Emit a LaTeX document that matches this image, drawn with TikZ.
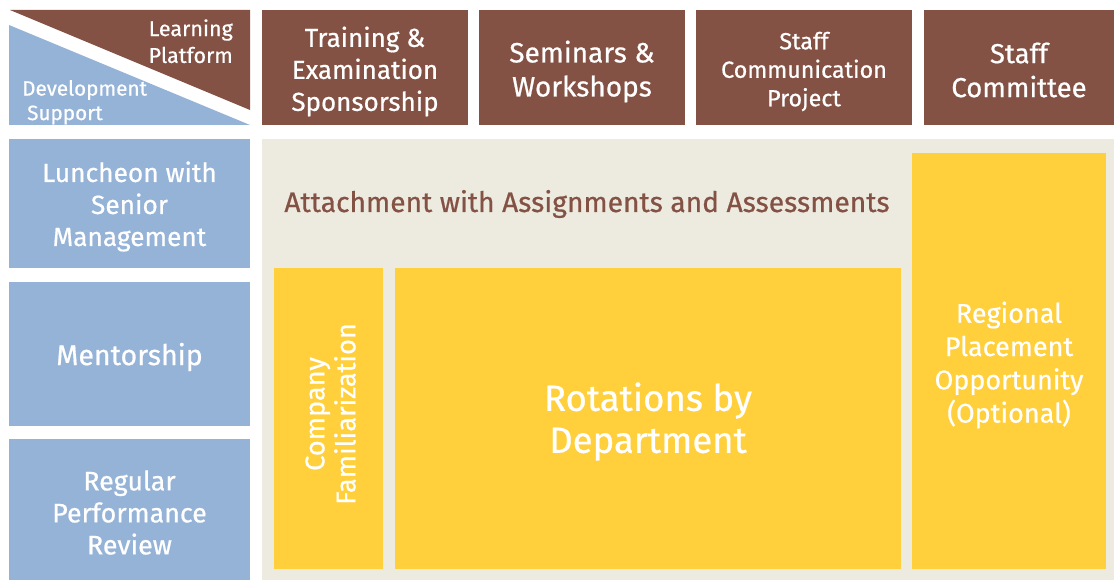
\documentclass[tikz,border=0pt]{standalone}
\usepackage{fontspec}
\setmainfont{Fira Sans}[BoldFont={Fira Sans},BoldFeatures={FakeBold=0.6}]
\definecolor{brn}{HTML}{845244}
\definecolor{blu}{HTML}{95B3D7}
\definecolor{ylw}{HTML}{FFD03C}
\definecolor{bge}{HTML}{EDEAE0}
\tikzset{
  cell/.style={rectangle, inner sep=0pt},
  brownbox/.style={cell, fill=brn},
  bluebox/.style={cell, fill=blu},
  yellowbox/.style={cell, fill=ylw},
  lbl/.style={inner sep=0pt, text=white, align=center},
}
\newcommand{\fs}[2]{\fontsize{#1}{#2}\selectfont\bfseries}
\begin{document}
\begin{tikzpicture}[x=1pt,y=-1pt]
\useasboundingbox (0,0) rectangle (1114,580);
\fill[white] (0,0) rectangle (1114,580);
% corner cell
\fill[brn] (10,10) -- (250,10) -- (250,110) -- cycle;
\fill[blu] (9,25) -- (9,125) -- (250,125) -- cycle;
\node[lbl, anchor=east, font=\fs{21.5}{24}] (lp1) at (233,30) {Learning};
\node[lbl, anchor=east, font=\fs{21.5}{24}] (lp2) at (233,55) {Platform};
\node[lbl, anchor=west, font=\fs{20.7}{24}] (ds1) at (22,90) {Development};
\node[lbl, anchor=west, font=\fs{20.7}{24}] (ds2) at (27,115) {Support};
% top boxes
\node[brownbox, minimum width=206, minimum height=115] (t1) at (365,67.5) {};
\node[brownbox, minimum width=206, minimum height=115] (t2) at (582,67.5) {};
\node[brownbox, minimum width=216, minimum height=115] (t3) at (804,67.5) {};
\node[brownbox, minimum width=190, minimum height=115] (t4) at (1019,67.5) {};
\node[lbl, font=\fs{26}{32}] (t1t) at ([yshift=-4pt]t1.center) {Training \&\\Examination\\Sponsorship};
\node[lbl, font=\fs{28}{34}] (t2t) at ([yshift=-4pt]t2.center) {Seminars \&\\Workshops};
\node[lbl, font=\fs{23.3}{28.5}] (t3t) at ([yshift=-4pt]t3.center) {Staff\\Communication\\Project};
\node[lbl, font=\fs{27.5}{34}] (t4t) at ([yshift=-2.5pt]t4.center) {Staff\\Committee};
% background
\fill[bge] (262,139) rectangle (1114,580);
% left boxes
\node[bluebox, minimum width=241, minimum height=129] (l1) at (129.5,203.5) {};
\node[bluebox, minimum width=241, minimum height=144] (l2) at (129.5,354) {};
\node[bluebox, minimum width=241, minimum height=141] (l3) at (129.5,509.5) {};
\node[lbl, font=\fs{26.3}{32}] (l1t) at ([yshift=-3pt]l1.center) {Luncheon with\\Senior\\Management};
\node[lbl, font=\fs{28.5}{32}] (l2t) at ([yshift=-3pt]l2.center) {Mentorship};
\node[lbl, font=\fs{26.8}{32}] (l3t) at ([yshift=-3pt]l3.center) {Regular\\Performance\\Review};
% attachment
\node[inner sep=0pt, text=brn, font=\fs{28.2}{32}] (att) at (587,204) {Attachment with Assignments and Assessments};
% yellow boxes
\node[yellowbox, minimum width=109, minimum height=301] (cf) at (328.5,418.5) {};
\node[yellowbox, minimum width=506, minimum height=301] (rot) at (648,418.5) {};
\node[yellowbox, minimum width=194, minimum height=416] (reg) at (1009,361) {};
\node[lbl, rotate=90, font=\fs{27.2}{31}] (cft) at (330.5,414) {Company\\Familiarization};
\node[lbl, font=\fs{36.5}{42}] (rott) at ([yshift=-3pt]rot.center) {Rotations by\\Department};
\node[lbl, font=\fs{27}{33.3}] (regt) at ([yshift=-4pt]reg.center) {Regional\\Placement\\Opportunity\\(Optional)};
\end{tikzpicture}
\end{document}
